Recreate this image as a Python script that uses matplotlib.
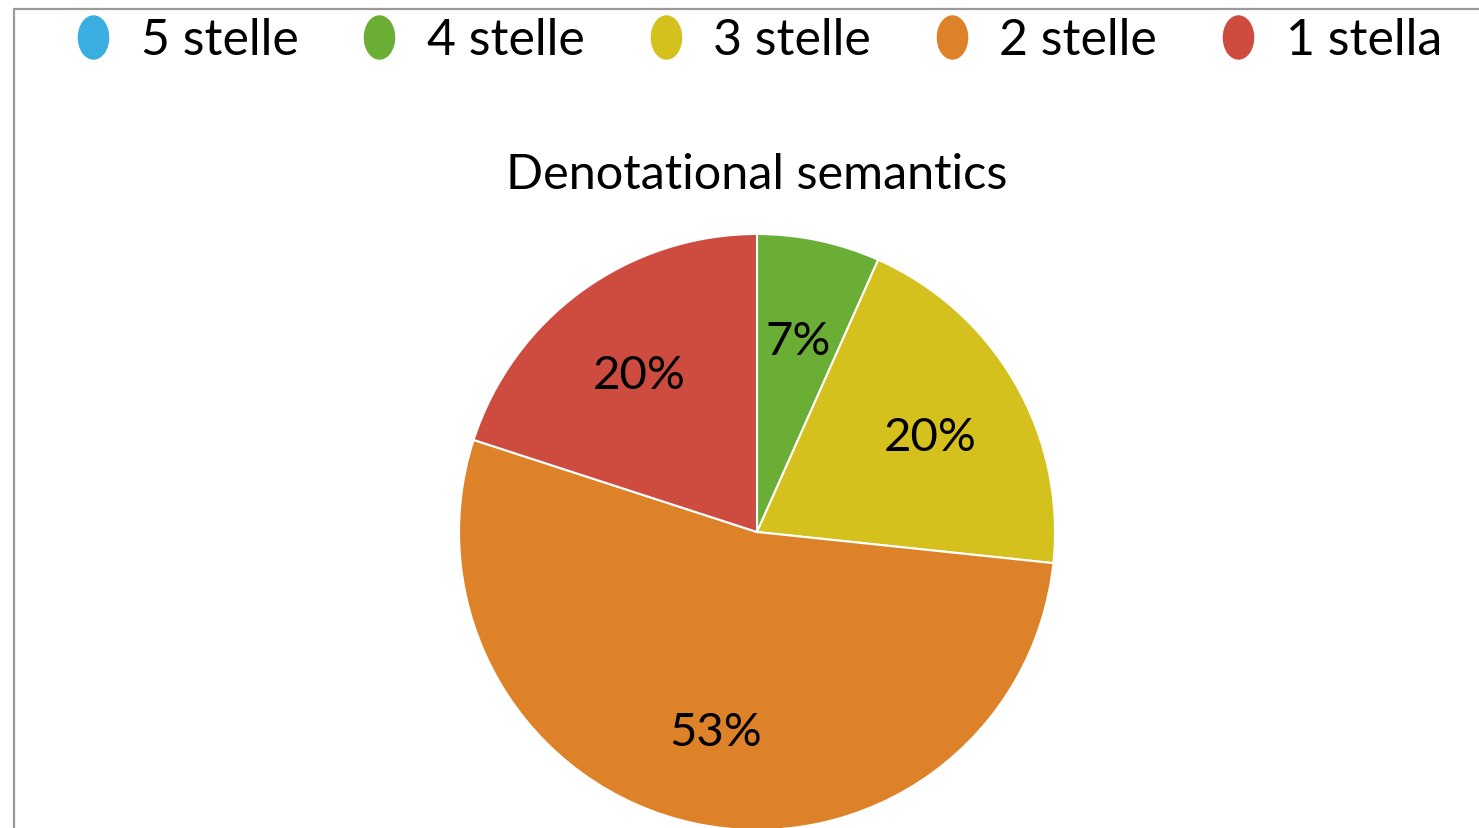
import matplotlib.pyplot as plt
from matplotlib.lines import Line2D
from matplotlib.patches import Rectangle
from matplotlib.path import Path
from matplotlib.transforms import Affine2D

categories = ["5 stelle", "4 stelle", "3 stelle", "2 stelle", "1 stella"]
votes = [0, 1, 3, 8, 3]
colors = ["#3aaee0", "#6aae35", "#d5c11d", "#de8229", "#cd4b3f"]
title = "Denotational semantics"

W, H = 1479, 829
fig = plt.figure(figsize=(W / 100, H / 100), dpi=100)

# frame like the original screenshot (only top and left edges visible)
fig.add_artist(Rectangle((14 / W, -0.1), 2.0, (H - 10) / H + 0.1,
                         transform=fig.transFigure, fill=False,
                         edgecolor="#9a9a9a", lw=1.6))

# pie axes: centre ~ (757, 533) px, radius ~ 298 px
r = 298
ax = fig.add_axes([(757 - r) / W, (H - 533 - r) / H, 2 * r / W, 2 * r / H])


def pct(p):
    return "" if p < 0.5 else "%.0f%%" % p


wedges, texts, autotexts = ax.pie(
    votes, colors=colors, startangle=90, counterclock=False,
    autopct=pct, pctdistance=0.67,
    wedgeprops=dict(edgecolor="white", linewidth=1.5),
    textprops=dict(fontsize=34, family="Lato"))
ax.set_xlim(-1, 1)
ax.set_ylim(-1, 1)
# labels sit a few pixels lower in the original
for t in autotexts:
    x, y = t.get_position()
    t.set_position((x, y - 0.015))

fig.text(757 / W, 1 - 175 / H, title, ha="center", va="center",
         fontsize=35, family="Lato")

oval = Path.unit_circle().transformed(Affine2D().scale(0.7, 1.0))
handles = [Line2D([], [], ls="", marker=oval, markersize=31,
                  markerfacecolor=c, markeredgecolor=c) for c in colors]
fig.legend(handles, categories, loc="center", bbox_to_anchor=(755 / W, 1 - 41 / H),
           ncol=5, frameon=False, prop=dict(family="Lato", size=36),
           handlelength=1.0, handletextpad=0.45, columnspacing=1.12,
           borderpad=0, borderaxespad=0)

fig.savefig("out.png", dpi=100)
